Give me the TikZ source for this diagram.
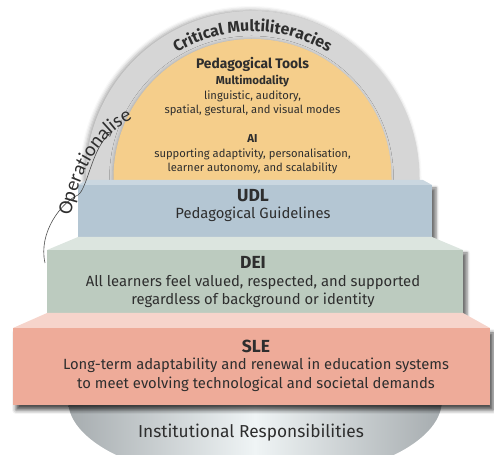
\documentclass[tikz,border=0pt]{standalone}
\usepackage{fontspec}
\setmainfont{Fira Sans}
\newfontfamily\opfont{Carlito}
\usetikzlibrary{shadows.blur,decorations.text,arrows.meta}

\definecolor{archgrey}{HTML}{D6D6D6}
\definecolor{toolsorange}{HTML}{F5CE8B}
\definecolor{udlfront}{HTML}{B4C6D3}
\definecolor{udltop}{HTML}{CAD7E0}
\definecolor{deifront}{HTML}{BCCBBF}
\definecolor{deitop}{HTML}{DCE5DF}
\definecolor{slefront}{HTML}{EEAB99}
\definecolor{sletop}{HTML}{F6D4CB}
\definecolor{ink}{HTML}{2E2E2E}
\definecolor{baseedge}{HTML}{A6ACAF}
\definecolor{basemid}{HTML}{EFF4F5}

\begin{document}
\begin{tikzpicture}[x=1pt,y=1pt,
  facebox/.style={blur shadow={shadow xshift=4pt, shadow yshift=-3pt,
      shadow blur radius=3pt, shadow opacity=55}},
  blocktitle/.style={inner sep=0pt, text=ink, font=\fontsize{17.5}{20}\selectfont\bfseries},
  blockbody/.style={inner sep=0pt, text=ink, align=center, font=\fontsize{14.8}{18.5}\selectfont},
  tooltitle/.style={inner sep=0pt, text=ink, font=\fontsize{13.8}{16}\selectfont\bfseries},
  toolsub/.style={inner sep=0pt, text=ink, font=\fontsize{11.5}{13}\selectfont\bfseries},
  toolbody/.style={inner sep=0pt, text=ink, align=center, font=\fontsize{11.2}{13.6}\selectfont},
  opline/.style={draw=ink!85, line width=0.6pt, -{Straight Barb[length=4pt,width=5pt]}}]

\useasboundingbox (0,0) rectangle (494,454);

% base disc of institutional responsibilities
\begin{scope}
  \clip (0,0) rectangle (494,60);
  \shade[left color=baseedge, right color=baseedge, middle color=basemid]
    (255,54) ellipse [x radius=187, y radius=82];
\end{scope}

% dome: critical multiliteracies band and pedagogical tools
\fill[archgrey, blur shadow={shadow xshift=-2pt, shadow yshift=1pt,
    shadow blur radius=4pt, shadow opacity=35}]
  (85.5,276) arc[start angle=180, end angle=0, radius=167]
  -- (419.5,270) -- (85.5,270) -- cycle;
\fill[toolsorange, blur shadow={shadow xshift=-1pt, shadow yshift=0pt,
    shadow blur radius=3pt, shadow opacity=20}]
  (113.5,276) arc[start angle=180, end angle=0, radius=139]
  -- (391.5,270) -- (113.5,270) -- cycle;
\path[decorate, decoration={text along path, text align=center, text color=ink,
    text={|\fontsize{15.8}{16}\selectfont\bfseries|Critical Multiliteracies}}]
  (106,276) arc[start angle=180, end angle=0, radius=146.5];

% UDL step
\fill[udlfront, facebox] (78,217) rectangle (432,269);
\fill[udltop] (87,274) -- (423,274) -- (432,269) -- (78,269) -- cycle;

% DEI step
\fill[deifront, facebox] (47,141) rectangle (463,204);
\fill[deitop] (78,217) -- (432,217) -- (463,204) -- (47,204) -- cycle;

% SLE step
\fill[slefront, blur shadow={shadow xshift=3pt, shadow yshift=-5pt,
    shadow blur radius=4pt, shadow opacity=70}] (13,49) rectangle (490,126);
\fill[sletop] (47,141) -- (463,141) -- (490,126) -- (13,126) -- cycle;

% texts of the dome
\node[tooltitle] (ptitle) at (252.5,390) {Pedagogical Tools};
\node[toolsub] (mmtitle) at (252.5,372.5) {Multimodality};
\node[toolbody] (mmbody) at (252.5,350.5) {linguistic, auditory,\\spatial, gestural, and visual modes};
\node[toolsub] (aititle) at (252.5,315.5) {AI};
\node[toolbody] (aibody) at (252.5,292.5) {supporting adaptivity, personalisation,\\learner autonomy, and scalability};

% texts of the steps
\node[blocktitle] (udltitle) at (253,258.5) {UDL};
\node[blockbody] (udlbody) at (253,240) {Pedagogical Guidelines};
\node[blocktitle] (deititle) at (253,191.5) {DEI};
\node[blockbody] (deibody) at (253,162.5) {All learners feel valued, respected, and supported\\regardless of background or identity};
\node[blocktitle] (sletitle) at (256,107.5) {SLE};
\node[blockbody] (slebody) at (256,79) {Long-term adaptability and renewal in education systems\\to meet evolving technological and societal demands};
\node[inner sep=0pt, text=ink, font=\fontsize{17.3}{19}\selectfont] (institution) at (251,21) {Institutional Responsibilities};

% operationalise arrow from the DEI step up to the tools
\coordinate (opstart) at (45,191);
\coordinate (opend) at (112,322);
\draw[opline] (opstart) .. controls (38,222) and (62,252) .. (78,259)
  .. controls (88,266) and (92,308) .. (opend);
\path[decorate, decoration={text along path, text align=fit to path, text color=ink,
    text={|\opfont\fontsize{20}{20}\selectfont|Operationalise}}]
  (71,238) .. controls (79,282) and (100,318) .. (129,333);

\end{tikzpicture}
\end{document}
